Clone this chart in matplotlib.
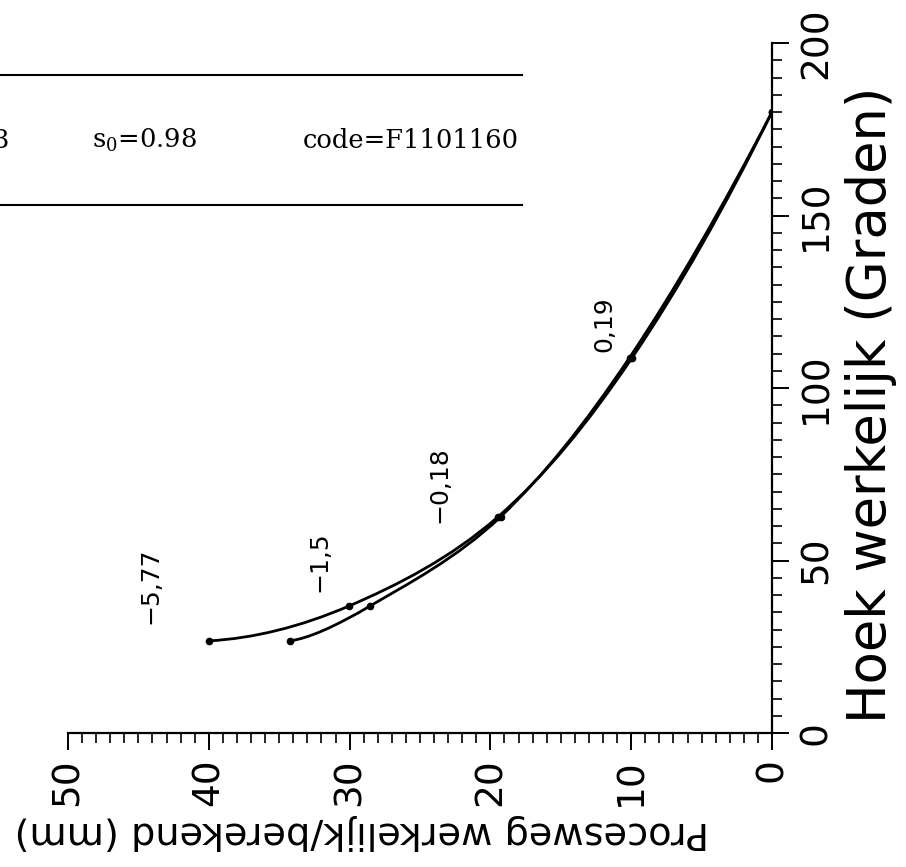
import numpy as np
import matplotlib
matplotlib.use('Agg')
import matplotlib.pyplot as plt
from matplotlib.path import Path
from matplotlib.patches import PathPatch
from matplotlib.lines import Line2D
from matplotlib.ticker import MultipleLocator

#hoek werkelijk (graden) van de meetpunten
hoek = [26.7, 36.8, 62.7, 108.8, 180.0]
#procesweg werkelijk en berekend (mm)
weg_werkelijk = [40.0, 30.05, 19.45, 9.93, 0.0]
weg_berekend = [34.23, 28.55, 19.27, 10.12, 0.0]
#verschil berekend - werkelijk bij de punten
verschil = ['\u22125,77', '\u22121,5', '\u22120,18', '0,19']

x_ticks = [0, 10, 20, 30, 40, 50]
y_ticks = [0, 50, 100, 150, 200]

#kop boven de grafiek
kop_teksten = ['3', 's$_0$=0.98', 'code=F1101160']

plt.rcParams['font.family'] = ['DejaVu Sans']
plt.rcParams['mathtext.fontset'] = 'dejavuserif'

W, H = 906, 867
fig = plt.figure(figsize=(W / 100, H / 100), dpi=100)
ax = fig.add_axes([68 / W, (H - 733) / H, (772 - 68) / W, (733 - 43) / H])


def glad_pad(xs, ys):
    #catmull-rom door de punten, als bezier-stukken voor matplotlib
    #aan de uiteinden de raaklijn van een parabool door 3 punten
    p = np.column_stack([xs, ys])
    n = len(p)
    d = [None] * n
    d[0] = (-3 * p[0] + 4 * p[1] - p[2]) / 2
    d[-1] = (3 * p[-1] - 4 * p[-2] + p[-3]) / 2
    for i in range(1, n - 1):
        d[i] = (p[i + 1] - p[i - 1]) / 2
    verts = [p[0]]
    codes = [Path.MOVETO]
    for i in range(n - 1):
        verts += [p[i] + d[i] / 3, p[i + 1] - d[i + 1] / 3, p[i + 1]]
        codes += [Path.CURVE4] * 3
    return Path(verts, codes)


for weg in [weg_werkelijk, weg_berekend]:
    ax.add_patch(PathPatch(glad_pad(weg, hoek), fill=False, lw=2.0, ec='black'))
    ax.plot(weg, hoek, 'o', color='black', ms=4.5, ls='none')

#plaats van de getallen t.o.v. het werkelijke punt (punten)
label_offsets = [(-42, 40), (-21, 32), (-42, 23), (-20, 24)]
for a in range(len(verschil)):
    ax.annotate(verschil[a], (weg_werkelijk[a], hoek[a]), xytext=label_offsets[a],
                textcoords='offset points', rotation=90, ha='center', va='center',
                fontsize=18)

ax.set_xlim(50, 0)
ax.set_ylim(0, 200)
ax.set_xticks(x_ticks)
ax.set_yticks(y_ticks)
ax.xaxis.set_minor_locator(MultipleLocator(1))
ax.yaxis.set_minor_locator(MultipleLocator(5))

for s in ['top', 'left']:
    ax.spines[s].set_visible(False)
for s in ['bottom', 'right']:
    ax.spines[s].set_linewidth(1.6)

ax.yaxis.tick_right()
ax.tick_params(axis='both', which='major', direction='out', length=12, width=1.4,
               labelsize=27, labelrotation=90)
ax.tick_params(axis='both', which='minor', direction='out', length=7, width=1.2)
ax.tick_params(axis='x', pad=6)
ax.tick_params(axis='y', pad=7)
for lab in ax.get_yticklabels():
    lab.set_va('center')

fig.text(871 / W, 1 - 405 / H, 'Hoek werkelijk (Graden)', rotation=90,
         ha='center', va='center', fontsize=38)
fig.text(362 / W, 1 - 832 / H, 'Procesweg werkelijk/berekend (mm)', rotation=180,
         ha='center', va='center', fontsize=27.5)

#kop met lijnen
for yy in [75, 205]:
    fig.add_artist(Line2D([0, 522 / W], [1 - yy / H, 1 - yy / H], color='black', lw=1.5))
kop_x = [-7, 92, 303]
for a in range(len(kop_teksten)):
    fig.text(kop_x[a] / W, 1 - 140 / H, kop_teksten[a], family='DejaVu Serif',
             ha='left', va='center', fontsize=18.5)

plt.savefig('out.png', dpi=100)
